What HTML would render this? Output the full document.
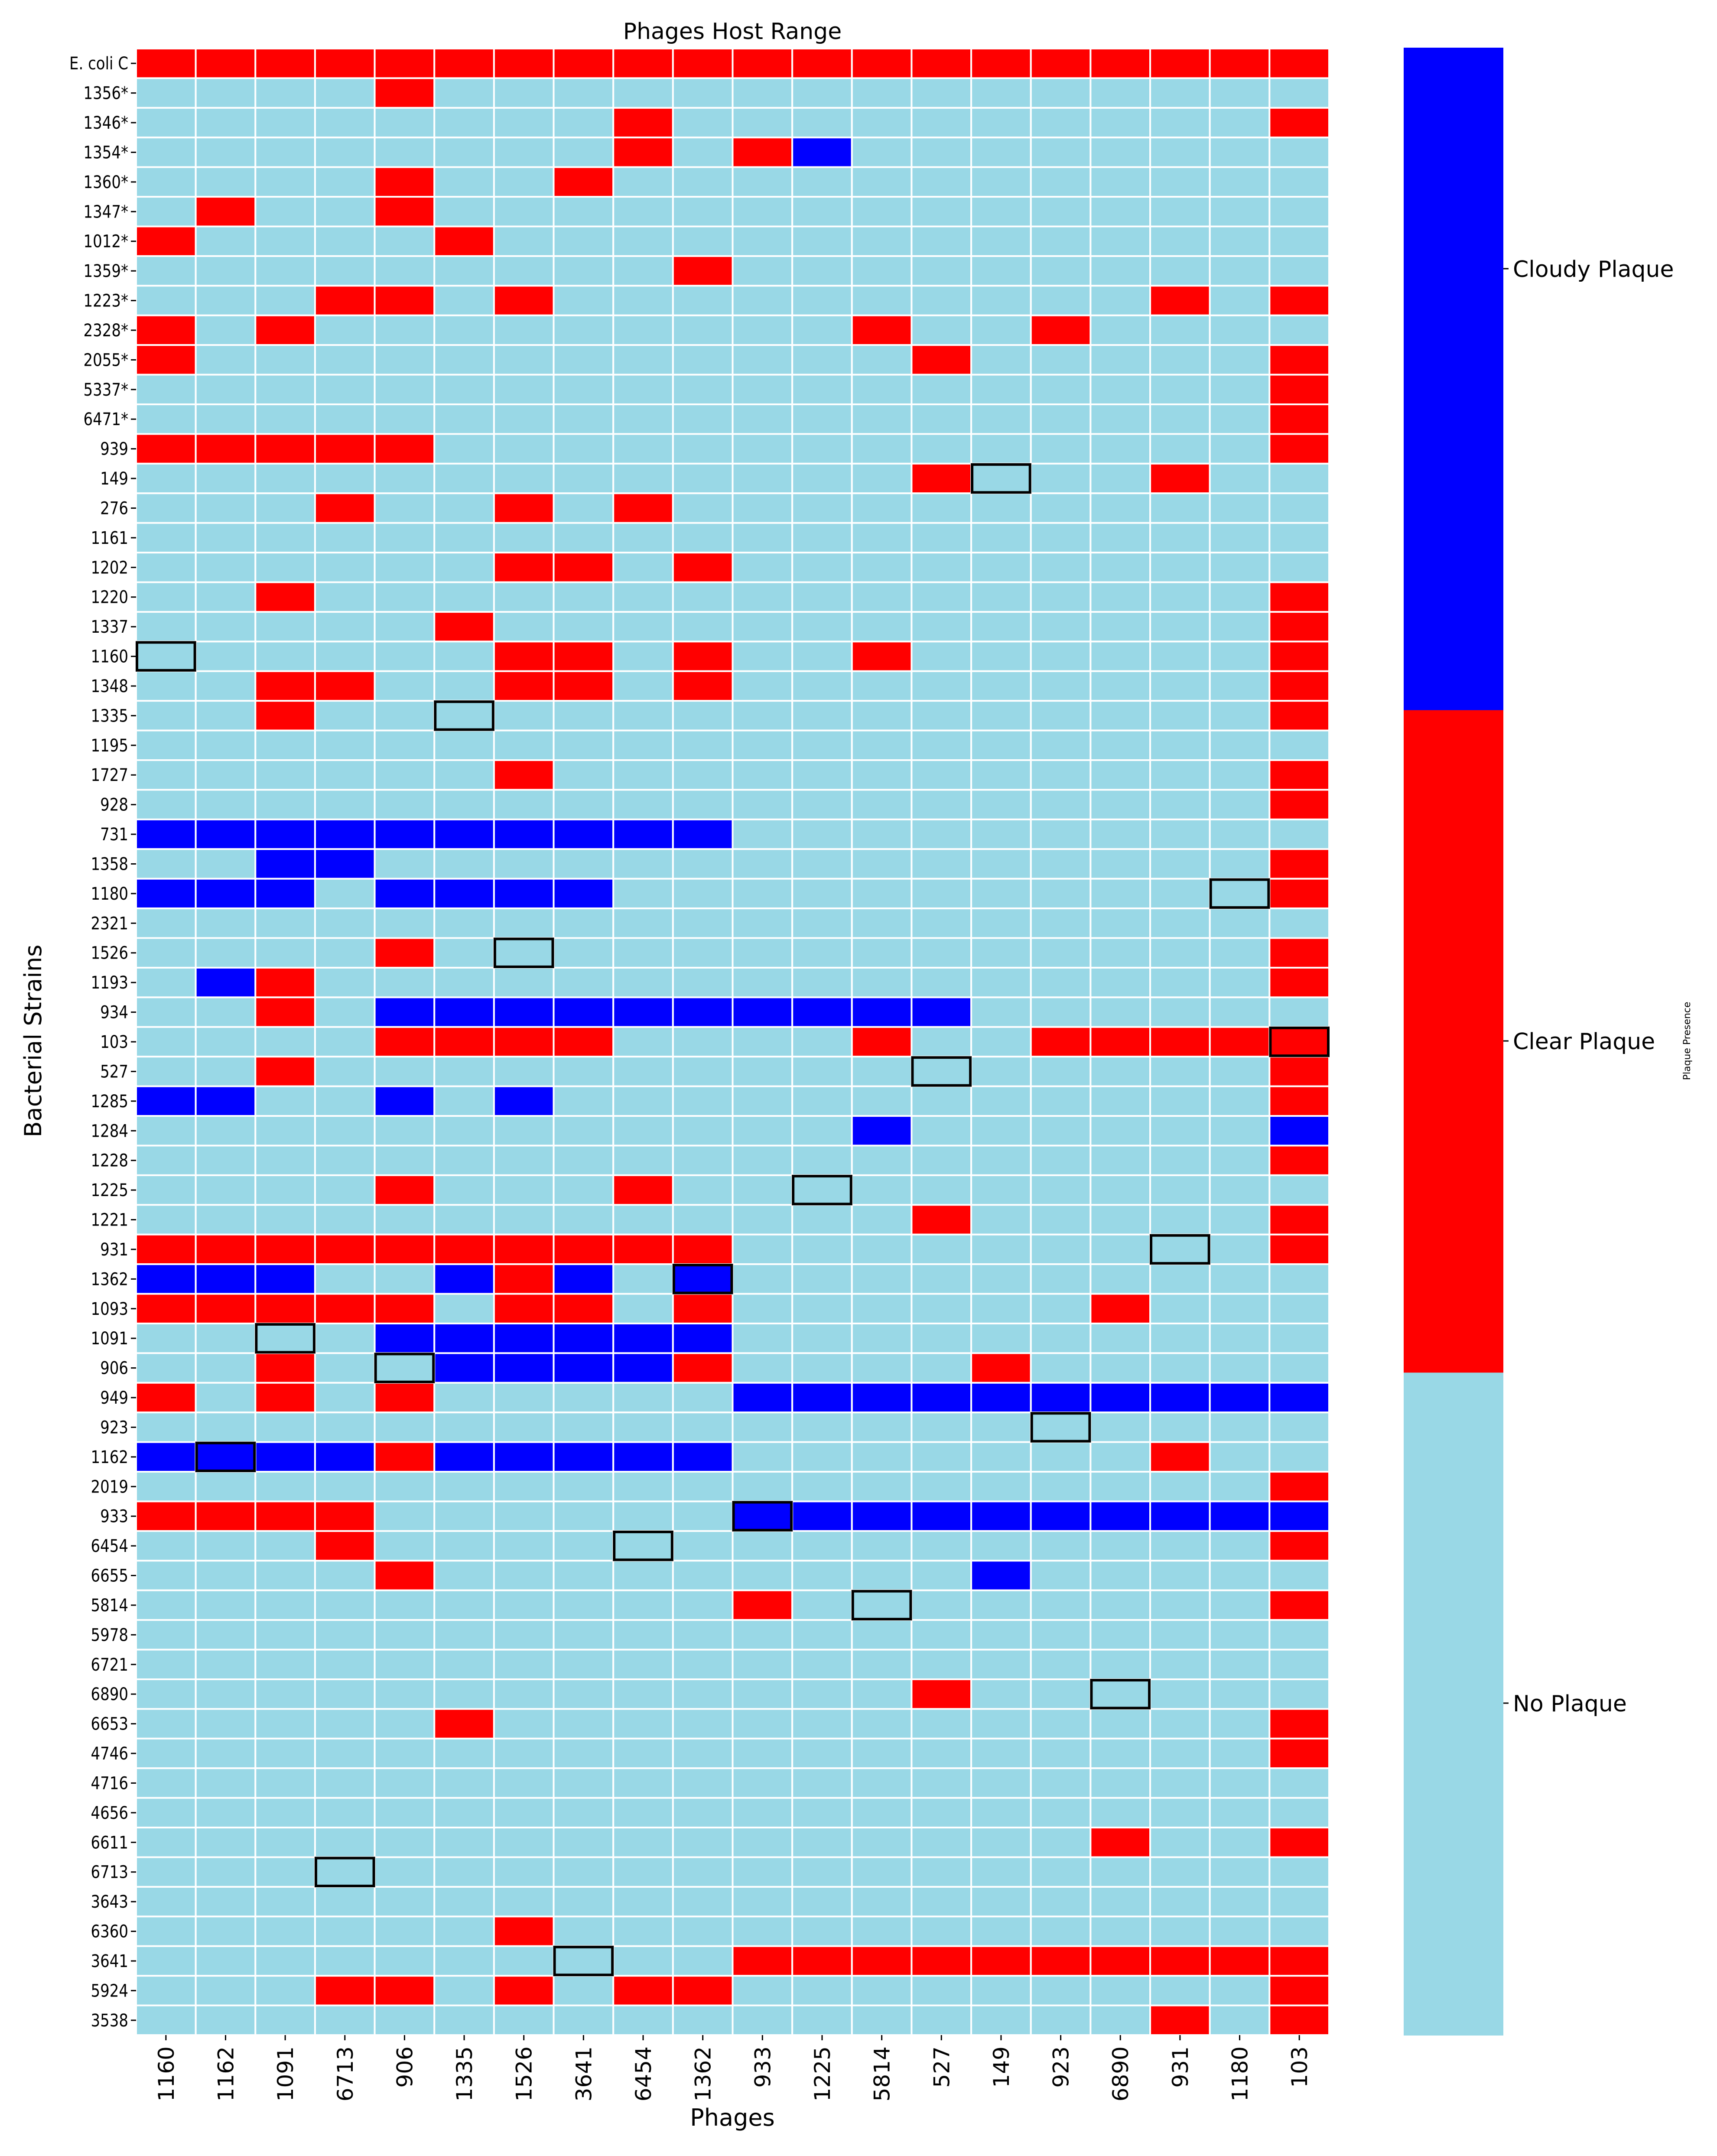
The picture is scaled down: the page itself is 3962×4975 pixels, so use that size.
<!DOCTYPE html>
<html><head><meta charset="utf-8">
<style>
html,body{margin:0;padding:0;background:#fff;}
svg{display:block;}
text{font-family:"DejaVu Sans","Liberation Sans",sans-serif;fill:#000;}
</style></head>
<body>
<svg id="chart" width="3962" height="4975" viewBox="0 0 3962 4975" xmlns="http://www.w3.org/2000/svg">
<text x="1690" y="90" font-size="52" text-anchor="middle">Phages Host Range</text>
<text x="0" y="0" font-size="54" text-anchor="middle" transform="translate(95,2402) rotate(-90)">Bacterial Strains</text>
<text x="1690" y="4905" font-size="54" text-anchor="middle">Phages</text>
<g id="heatmap"></g>
<g id="boxes"></g>
<g id="yticks"></g>
<g id="xticks"></g>
<g id="colorbar"></g>
<text x="0" y="0" font-size="22" text-anchor="middle" transform="translate(3900,2402) rotate(-90)">Plaque Presence</text>
</svg>
<script>
const phages = ["1160","1162","1091","6713","906","1335","1526","3641","6454","1362","933","1225","5814","527","149","923","6890","931","1180","103"];
const strains = ["E. coli C","1356*","1346*","1354*","1360*","1347*","1012*","1359*","1223*","2328*","2055*","5337*","6471*","939","149","276","1161","1202","1220","1337","1160","1348","1335","1195","1727","928","731","1358","1180","2321","1526","1193","934","103","527","1285","1284","1228","1225","1221","931","1362","1093","1091","906","949","923","1162","2019","933","6454","6655","5814","5978","6721","6890","6653","4746","4716","4656","6611","6713","3643","6360","3641","5924","3538"];
// 0 = no plaque, 1 = clear plaque, 2 = cloudy plaque
const values = [
"11111111111111111111","00001000000000000000","00000000100000000001","00000000101200000000",
"00001001000000000000","01001000000000000000","10000100000000000000","00000000010000000000",
"00011010000000000101","10100000000010010000","10000000000001000001","00000000000000000001",
"00000000000000000001","11111000000000000001","00000000000001000100","00010010100000000000",
"00000000000000000000","00000011010000000000","00100000000000000001","00000100000000000001",
"00000011010010000001","00110011010000000001","00100000000000000001","00000000000000000000",
"00000010000000000001","00000000000000000001","22222222220000000000","00220000000000000001",
"22202222000000000001","00000000000000000000","00001000000000000001","02100000000000000001",
"00102222222222000000","00001111000010011111","00100000000000000001","22002020000000000001",
"00000000000020000002","00000000000000000001","00001000100000000000","00000000000001000001",
"11111111110000000001","22200212020000000000","11111011010000001000","00002222220000000000",
"00100222210000100000","10101000002222222222","00000000000000000000","22221222220000000100",
"00000000000000000001","11110000002222222222","00010000000000000001","00001000000000200000",
"00000000001000000001","00000000000000000000","00000000000000000000","00000000000001000000",
"00000100000000000001","00000000000000000001","00000000000000000000","00000000000000000000",
"00000000000000001001","00000000000000000000","00000000000000000000","00000010000000000000",
"00000000001111111111","00011010110000000001","00000000000000000101"];
const boxStrains = ["149","1160","1335","1180","1526","103","527","1225","931","1362","1091","906","923","1162","933","6454","5814","6890","6713","3641"];
const boxPhages = ["149","1160","1335","1180","1526","103","527","1225","931","1362","1091","906","923","1162","933","6454","5814","6890","6713","3641"];
const legendLabels = ["Cloudy Plaque","Clear Plaque","No Plaque"];
const legendTickY = [620, 2402, 3930];

const NS="http://www.w3.org/2000/svg";
const colors=["#99d8e6","#ff0000","#0000ff"];
const X0=314,X1=3067,Y0=112,Y1=4696;
const cw=(X1-X0)/phages.length, rh=(Y1-Y0)/strains.length;
const xPos=i=>X0+i*cw, yPos=j=>Y0+j*rh;
function mk(tag,parent,attrs){const e=document.createElementNS(NS,tag);for(const k in attrs)e.setAttribute(k,attrs[k]);parent.appendChild(e);return e;}
const hm=document.getElementById('heatmap');
values.forEach((row,j)=>{for(let i=0;i<phages.length;i++){
  const r=mk('rect',hm,{x:xPos(i),y:yPos(j),width:cw,height:rh,fill:colors[+row[i]],stroke:'#fff','stroke-width':4});
  
  
}});
const bx=document.getElementById('boxes');
boxStrains.forEach((s,k)=>{
  const j=strains.indexOf(s), i=phages.indexOf(boxPhages[k]);
  const r=mk('rect',bx,{x:xPos(i)+2,y:yPos(j)+2,width:cw-4,height:rh-4,fill:'none',stroke:'#000','stroke-width':6});
  
  
});
const yt=document.getElementById('yticks');
strains.forEach((s,j)=>{
  const cy=yPos(j)+rh/2;
  mk('line',yt,{x1:X0-12,x2:X0,y1:cy,y2:cy,stroke:'#000','stroke-width':3});
  const t=mk('text',yt,{x:0,y:0,'font-size':40,'text-anchor':'end',transform:`translate(${X0-18},${cy+14}) scale(0.85,1)`});
  t.textContent=s;
  
  
});
const xt=document.getElementById('xticks');
phages.forEach((p,i)=>{
  const cx=xPos(i)+cw/2;
  mk('line',xt,{x1:cx,x2:cx,y1:Y1,y2:Y1+12,stroke:'#000','stroke-width':3});
  const t=mk('text',xt,{x:0,y:0,'font-size':50,'text-anchor':'end',transform:`translate(${cx+18},${Y1+26}) rotate(-90)`});
  t.textContent=p;
  
  
});
const cb=document.getElementById('colorbar');
const CX0=3239,CX1=3469,CY0=110,CY1=4696,seg=(CY1-CY0)/3;
[2,1,0].forEach((v,k)=>{
  const r=mk('rect',cb,{x:CX0,y:CY0+k*seg,width:CX1-CX0,height:seg+1,fill:colors[v]});
  
  
});
legendLabels.forEach((l,k)=>{
  const y=legendTickY[k];
  mk('line',cb,{x1:CX1,x2:CX1+12,y1:y,y2:y,stroke:'#000','stroke-width':3});
  const t=mk('text',cb,{x:CX1+22,y:y+19,'font-size':52});
  t.textContent=l;
  
  
});
</script>
</body></html>
